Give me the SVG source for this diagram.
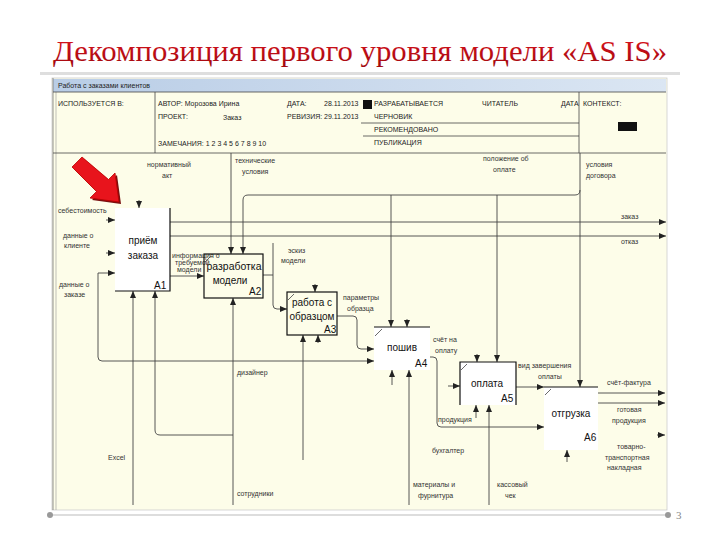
<svg xmlns="http://www.w3.org/2000/svg" width="720" height="540" viewBox="0 0 720 540">
<defs>
<marker id="ah" markerWidth="7" markerHeight="6" refX="7" refY="3" orient="auto" markerUnits="userSpaceOnUse"><path d="M0,0 L7,3 L0,6 z" fill="#222"/></marker>
<linearGradient id="bar" x1="0" y1="0" x2="1" y2="0"><stop offset="0" stop-color="#b9cde6"/><stop offset="1" stop-color="#dbe6f3"/></linearGradient>
<linearGradient id="red" x1="0" y1="0" x2="0" y2="1"><stop offset="0" stop-color="#e0141e"/><stop offset="1" stop-color="#a0080e"/></linearGradient>
</defs>
<style>
.t{font-family:"Liberation Sans",Arial,sans-serif;font-size:7px;fill:#333}
.h{font-family:"Liberation Sans",Arial,sans-serif;font-size:7px;fill:#222}
.b{font-family:"Liberation Sans",Arial,sans-serif;font-size:10px;fill:#111}
.c{fill:none;stroke:#444;stroke-width:0.9}
.ca{fill:none;stroke:#444;stroke-width:0.9;marker-end:url(#ah)}
.bx{fill:#fff;stroke:none}
.e{stroke:#111;stroke-width:1.2;fill:none}
.g{stroke:#444;stroke-width:0.8}
</style>
<rect width="720" height="540" fill="#fff"/>
<text x="360" y="61" text-anchor="middle" font-family="'Liberation Serif','Times New Roman',serif" font-size="29" fill="url(#red)" textLength="614" lengthAdjust="spacingAndGlyphs">Декомпозиция первого уровня модели «AS IS»</text>
<rect x="40" y="72" width="640" height="3" fill="#dedede"/>
<g id="frame">
<rect x="52" y="78" width="615" height="432" fill="#fdfde9" stroke="#ccc" stroke-width="0.8"/>
<rect x="53" y="79" width="613" height="13" fill="url(#bar)"/>
<text class="h" x="58" y="88" font-size="6.5">Работа с заказами клиентов</text>
<line x1="53" y1="78" x2="53" y2="510" stroke="#777" stroke-width="0.8"/>
<line x1="56" y1="92" x2="56" y2="510" stroke="#999" stroke-width="0.6"/>
</g>
<g id="header">
<line x1="53" y1="92" x2="666" y2="92" class="g"/>
<line x1="53" y1="153" x2="666" y2="153" class="g"/>
<line x1="155" y1="92" x2="155" y2="153" class="g"/>
<line x1="579" y1="92" x2="579" y2="153" class="g"/>
<line x1="361" y1="123" x2="579" y2="123" class="g"/>
<line x1="363" y1="136" x2="579" y2="136" class="g"/>
<text class="h" x="58" y="106">ИСПОЛЬЗУЕТСЯ В:</text>
<text class="h" x="158" y="106">АВТОР:  Морозова Ирина</text>
<text class="h" x="158" y="119">ПРОЕКТ:</text>
<text class="h" x="223" y="120">Заказ</text>
<text class="h" x="158" y="146">ЗАМЕЧАНИЯ:  1 2 3 4 5 6 7 8 9 10</text>
<text class="h" x="287" y="106">ДАТА:</text>
<text class="h" x="324" y="106">28.11.2013</text>
<text class="h" x="287" y="119" font-size="6.5">РЕВИЗИЯ:</text>
<text class="h" x="324" y="119">29.11.2013</text>
<rect x="363" y="100" width="9" height="9" fill="#111"/>
<text class="h" x="374" y="106">РАЗРАБАТЫВАЕТСЯ</text>
<text class="h" x="374" y="119">ЧЕРНОВИК</text>
<text class="h" x="374" y="132">РЕКОМЕНДОВАНО</text>
<text class="h" x="374" y="145">ПУБЛИКАЦИЯ</text>
<text class="h" x="482" y="106">ЧИТАТЕЛЬ</text>
<text class="h" x="561" y="106">ДАТА</text>
<text class="h" x="583" y="106">КОНТЕКСТ:</text>
<rect x="618" y="122" width="19" height="9" fill="#111"/>
</g>
<g id="connectors">
<path class="ca" d="M231,153 V254"/>
<path class="ca" d="M580,153 V387"/>
<path class="ca" d="M580,190 Q580,195 575,195 H248 Q243,195 243,200 V254"/>
<path class="ca" d="M391,195 V327"/>
<path class="ca" d="M497,195 V362"/>
<path class="ca" d="M170,222 H666"/>
<path class="ca" d="M170,236 H666"/>
<path class="ca" d="M170,276 H204"/>
<path class="c" d="M263,275 H273"/>
<path class="ca" d="M273,243 V305 Q273,309 277,309 H287"/>
<path class="ca" d="M337,316 H353 Q357,316 357,320 V345 Q357,349 361,349 H374"/>
<path class="ca" d="M106,220 H115"/>
<path class="ca" d="M106,253 H115"/>
<path class="ca" d="M98,273 H115"/>
<path class="ca" d="M98,273 V357 Q98,361 102,361 H374"/>
<path class="ca" d="M139,200 V208"/>
<path class="ca" d="M133,505 V291"/>
<path class="ca" d="M233,435 H160 Q155,435 155,430 V291"/>
<path class="ca" d="M233,505 V298"/>
<path class="ca" d="M315,284 V292"/>
<path class="ca" d="M303,460 V335"/>
<path class="ca" d="M318,343 V335"/>
<path class="ca" d="M407,319 V327"/>
<path class="ca" d="M392,385 V370"/>
<path class="ca" d="M409,505 V370"/>
<path class="ca" d="M430,357 H433 Q437,357 437,361 V423 Q437,427 441,427 H544"/>
<path class="ca" d="M448,386 H460"/>
<path class="ca" d="M477,354 V362"/>
<path class="ca" d="M476,418 V405"/>
<path class="ca" d="M489,505 V405"/>
<path class="ca" d="M516,387 H544"/>
<path class="ca" d="M598,393 H665"/>
<path class="ca" d="M598,403 H665"/>
<path class="ca" d="M657,435 H665"/>
<path class="ca" d="M567,462 V450"/>
</g>
<g id="labels">
<text class="t" x="147" y="167">нормативный</text>
<text class="t" x="162" y="178">акт</text>
<text class="t" x="235" y="163">технические</text>
<text class="t" x="242" y="174">условия</text>
<text class="t" x="483" y="161">положение об</text>
<text class="t" x="493" y="172">оплате</text>
<text class="t" x="586" y="167">условия</text>
<text class="t" x="586" y="178">договора</text>
<text class="t" x="58" y="213">себестоимость</text>
<text class="t" x="63" y="238">данные о</text>
<text class="t" x="64" y="248">клиенте</text>
<text class="t" x="59" y="287">данные о</text>
<text class="t" x="64" y="297">заказе</text>
<text class="t" x="172" y="258" font-size="5">информация о</text>
<text class="t" x="175" y="265" font-size="5">требуемой</text>
<text class="t" x="177" y="272" font-size="5">модели</text>
<text class="t" x="288" y="253">эскиз</text>
<text class="t" x="281" y="263">модели</text>
<text class="t" x="343" y="300">параметры</text>
<text class="t" x="347" y="311">образца</text>
<text class="t" x="433" y="342">счёт на</text>
<text class="t" x="435" y="353">оплату</text>
<text class="t" x="237" y="375">дизайнер</text>
<text class="t" x="438" y="422">продукция</text>
<text class="t" x="432" y="453">бухгалтер</text>
<text class="t" x="518" y="368">вид завершения</text>
<text class="t" x="538" y="379">оплаты</text>
<text class="t" x="621" y="219">заказ</text>
<text class="t" x="621" y="244">отказ</text>
<text class="t" x="607" y="385">счёт-фактура</text>
<text class="t" x="617" y="412">готовая</text>
<text class="t" x="612" y="423">продукция</text>
<text class="t" x="617" y="449">товарно-</text>
<text class="t" x="605" y="460">транспортная</text>
<text class="t" x="607" y="470">накладная</text>
<text class="t" x="108" y="460">Excel</text>
<text class="t" x="237" y="496">сотрудники</text>
<text class="t" x="413" y="487">материалы и</text>
<text class="t" x="418" y="498">фурнитура</text>
<text class="t" x="497" y="487">кассовый</text>
<text class="t" x="505" y="498">чек</text>
</g>
<g id="A1">
<rect class="bx" x="115" y="208" width="55" height="83"/>
<path class="e" d="M170,208 V291 H115"/>
<text class="b" x="143" y="244" text-anchor="middle">приём</text>
<text class="b" x="143" y="259" text-anchor="middle">заказа</text>
<text class="b" x="154" y="289">A1</text>
</g>
<g id="A2">
<rect class="bx e" x="204" y="254" width="59" height="44"/>
<line class="g" x1="205" y1="262" x2="211" y2="256"/>
<text class="b" x="234" y="270" text-anchor="middle" textLength="55" lengthAdjust="spacingAndGlyphs">разработка</text>
<text class="b" x="230" y="284" text-anchor="middle">модели</text>
<text class="b" x="249" y="295">A2</text>
</g>
<g id="A3">
<rect class="bx e" x="287" y="292" width="50" height="43"/>
<line class="g" x1="288" y1="300" x2="294" y2="294"/>
<text class="b" x="312" y="306" text-anchor="middle">работа с</text>
<text class="b" x="312" y="320" text-anchor="middle" textLength="45" lengthAdjust="spacingAndGlyphs">образцом</text>
<text class="b" x="324" y="333">A3</text>
</g>
<g id="A4">
<rect class="bx" x="374" y="327" width="56" height="43"/>
<line class="e" x1="374" y1="327" x2="430" y2="327"/>
<line class="g" x1="375" y1="336" x2="382" y2="329"/>
<text class="b" x="402" y="351" text-anchor="middle">пошив</text>
<text class="b" x="415" y="367">A4</text>
</g>
<g id="A5">
<rect class="bx" x="460" y="362" width="56" height="43"/>
<path class="e" d="M460,405 V362 H516 V405"/>
<line class="g" x1="461" y1="370" x2="467" y2="364"/>
<text class="b" x="487" y="387" text-anchor="middle">оплата</text>
<text class="b" x="501" y="402">A5</text>
</g>
<g id="A6">
<rect class="bx" x="544" y="387" width="54" height="63"/>
<line class="e" x1="544" y1="387" x2="598" y2="387"/>
<line class="g" x1="545" y1="395" x2="551" y2="389"/>
<text class="b" x="571" y="417" text-anchor="middle">отгрузка</text>
<text class="b" x="584" y="441">A6</text>
</g>
<g id="pointer">
<polygon points="82,157 72,167 96.5,191.5 90,198 119,202 115,173 108.5,179.5" fill="#7a1010" transform="translate(2,2)"/>
<polygon points="82,157 72,167 96.5,191.5 90,198 119,202 115,173 108.5,179.5" fill="#e8141c" stroke="#b00" stroke-width="0.8"/>
</g>
<g id="footer">
<line x1="50" y1="515" x2="668" y2="515" stroke="#bbb" stroke-width="1"/>
<circle cx="50" cy="515" r="3" fill="#999"/>
<circle cx="668" cy="515" r="3" fill="#999"/>
<text x="676" y="519" font-family="'Liberation Serif',serif" font-size="11" fill="#888">3</text>
</g>
</svg>
